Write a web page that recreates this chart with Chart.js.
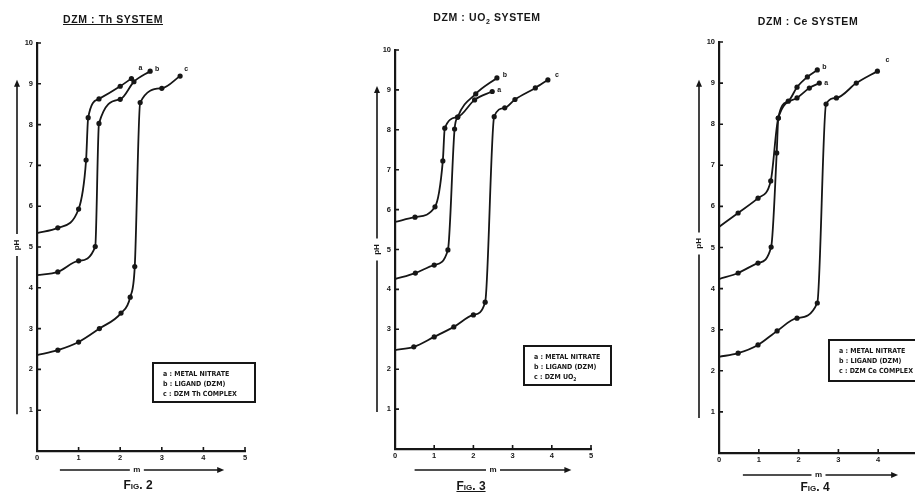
<!DOCTYPE html>
<html>
<head>
<meta charset="utf-8">
<script src="https://cdn.jsdelivr.net/npm/chart.js@4/dist/chart.umd.min.js"></script>
<style>
  body { margin: 0; width: 915px; height: 496px; overflow: hidden; position: relative; background: #fff;
         font-family: "Liberation Sans", "DejaVu Sans", sans-serif; font-weight: bold; color: #161616; }
  canvas { position: absolute; top: 0; }
  .title { position: absolute; font-size: 10.5px; letter-spacing: 0.6px; transform: translateX(-50%); white-space: nowrap; }
  .title sub { font-size: 7px; }
  .fig { position: absolute; font-size: 12px; font-variant: small-caps; transform: translateX(-50%); white-space: nowrap; }
  .legend { position: absolute; border: 2px solid #161616; box-sizing: border-box; padding: 5px 0 0 9px;
            font-family: "Liberation Sans Narrow", "DejaVu Sans Condensed", sans-serif; font-size: 7px; line-height: 10px; white-space: nowrap; overflow: hidden; }
  .legend sub { font-size: 5px; }
</style>
</head>
<body>
<canvas id="th" width="300" height="496" style="left:0px"></canvas>
<canvas id="uo" width="270" height="496" style="left:340px"></canvas>
<canvas id="ce" width="265" height="496" style="left:660px"></canvas>

<div class="title" style="left:113px;top:13px;text-decoration:underline">DZM : Th SYSTEM</div>
<div class="title" style="left:487px;top:11px">DZM : UO<sub>2</sub> SYSTEM</div>
<div class="title" style="left:808px;top:15px">DZM : Ce SYSTEM</div>

<div class="legend" id="leg-th" style="left:152px;top:362px;width:104px;height:41px"></div>
<div class="legend" id="leg-uo" style="left:523px;top:345px;width:89px;height:41px"></div>
<div class="legend" id="leg-ce" style="left:828px;top:339px;width:100px;height:43px"></div>

<div class="fig" style="left:138px;top:478px">Fig. 2</div>
<div class="fig" style="left:471px;top:479px;text-decoration:underline">Fig. 3</div>
<div class="fig" style="left:815px;top:480px">Fig. 4</div>

<script>
// Potentiometric titration curves (pH vs m) for three DZM systems.
// Values.

const INK = "#161616";

// --- Fig. 2 : DZM : Th ---
const thM_a  = [0, 0.5, 1.0, 1.18, 1.23, 1.49, 2.0, 2.27];
const thPH_a = [5.34, 5.47, 5.93, 7.13, 8.17, 8.63, 8.94, 9.13];
const thM_b  = [0, 0.5, 1.0, 1.4, 1.49, 2.0, 2.33, 2.72];
const thPH_b = [4.31, 4.39, 4.66, 5.01, 8.03, 8.62, 9.05, 9.31];
const thM_c  = [0, 0.5, 1.0, 1.5, 2.02, 2.24, 2.35, 2.48, 3.0, 3.44];
const thPH_c = [2.35, 2.47, 2.67, 3.0, 3.38, 3.77, 4.52, 8.54, 8.89, 9.19];

// --- Fig. 3 : DZM : UO2 ---
const uoM_a  = [0, 0.51, 1.02, 1.22, 1.27, 1.6, 2.03, 2.48];
const uoPH_a = [5.69, 5.81, 6.07, 7.22, 8.04, 8.32, 8.75, 8.96];
const uoM_b  = [0, 0.52, 1.0, 1.35, 1.52, 1.6, 2.06, 2.6];
const uoPH_b = [4.26, 4.41, 4.61, 4.99, 8.02, 8.32, 8.9, 9.3];
const uoM_c  = [0, 0.48, 1.0, 1.5, 2.0, 2.3, 2.53, 2.8, 3.06, 3.58, 3.9];
const uoPH_c = [2.48, 2.56, 2.81, 3.06, 3.36, 3.68, 8.33, 8.55, 8.76, 9.05, 9.25];

// --- Fig. 4 : DZM : Ce ---
const ceM_a  = [0, 0.48, 0.98, 1.3, 1.49, 1.96, 2.27, 2.52];
const cePH_a = [5.5, 5.84, 6.2, 6.62, 8.15, 8.64, 8.88, 9.0];
const ceM_b  = [0, 0.48, 0.98, 1.31, 1.45, 1.49, 1.74, 1.96, 2.22, 2.47];
const cePH_b = [4.23, 4.38, 4.62, 5.01, 7.3, 8.15, 8.56, 8.9, 9.15, 9.32];
const ceM_c  = [0, 0.48, 0.98, 1.46, 1.96, 2.47, 2.69, 2.95, 3.45, 3.98];
const cePH_c = [2.34, 2.43, 2.63, 2.97, 3.28, 3.65, 8.49, 8.64, 9.0, 9.29];

const curveLetters = ["a", "b", "c"];
const legendTh = ["a : METAL NITRATE", "b : LIGAND (DZM)", "c : DZM Th COMPLEX"];
const legendUo = ["a : METAL NITRATE", "b : LIGAND (DZM)", "c : DZM UO<sub>2</sub>"];
const legendCe = ["a : METAL NITRATE", "b : LIGAND (DZM)", "c : DZM Ce COMPLEX"];

const yTicks = [0, 1, 2, 3, 4, 5, 6, 7, 8, 9, 10];
const xTicks = [0, 1, 2, 3, 4, 5];

// ---------------------------------------------------------------------------
// Inward tick marks, axis arrows and curve letters
// ---------------------------------------------------------------------------

const decorPlugin = {
  id: "decor",
  afterDraw(chart, args, o) {
    const { ctx, chartArea: area, scales: { x, y } } = chart;
    ctx.save();
    ctx.strokeStyle = INK;
    ctx.fillStyle   = INK;
    ctx.lineWidth   = 1.6;

    ctx.beginPath();
    yTicks.slice(1).forEach(v => {
      const py = y.getPixelForValue(v);
      ctx.moveTo(area.left, py); ctx.lineTo(area.left + 4, py);
    });
    xTicks.slice(1).forEach(v => {
      const px = x.getPixelForValue(v);
      ctx.moveTo(px, area.bottom); ctx.lineTo(px, area.bottom - 4);
    });
    ctx.stroke();

    // pH arrow
    const ax   = area.left - o.v.dx;
    const yTop = y.getPixelForValue(o.v.to);
    const yBot = y.getPixelForValue(o.v.from);
    const yLab = y.getPixelForValue(o.v.at);
    ctx.beginPath();
    ctx.moveTo(ax, yBot); ctx.lineTo(ax, yLab + 11);
    ctx.moveTo(ax, yLab - 11); ctx.lineTo(ax, yTop + 5);
    ctx.stroke();
    ctx.beginPath();
    ctx.moveTo(ax, yTop); ctx.lineTo(ax - 3, yTop + 7); ctx.lineTo(ax + 3, yTop + 7);
    ctx.closePath(); ctx.fill();
    ctx.save();
    ctx.translate(ax, yLab);
    ctx.rotate(-Math.PI / 2);
    ctx.font = "bold 8px 'Liberation Sans', sans-serif";
    ctx.textAlign = "center";
    ctx.textBaseline = "middle";
    ctx.fillText("pH", 0, 0);
    ctx.restore();

    // m arrow
    const ay   = area.bottom + o.h.dy;
    const xL   = x.getPixelForValue(o.h.from);
    const xR   = x.getPixelForValue(o.h.to);
    const xLab = x.getPixelForValue(o.h.at);
    ctx.beginPath();
    ctx.moveTo(xL, ay); ctx.lineTo(xLab - 7, ay);
    ctx.moveTo(xLab + 7, ay); ctx.lineTo(xR - 5, ay);
    ctx.stroke();
    ctx.beginPath();
    ctx.moveTo(xR, ay); ctx.lineTo(xR - 7, ay - 3); ctx.lineTo(xR - 7, ay + 3);
    ctx.closePath(); ctx.fill();
    ctx.font = "bold 8px 'Liberation Sans', sans-serif";
    ctx.textAlign = "center";
    ctx.textBaseline = "middle";
    ctx.fillText("m", xLab, ay);

    // curve letters at the end of each curve
    ctx.font = "bold 7px 'Liberation Sans', sans-serif";
    chart.data.datasets.forEach((ds, i) => {
      const pts  = chart.getDatasetMeta(i).data;
      const last = pts[pts.length - 1];
      const off  = o.letters[i];
      ctx.fillText(curveLetters[i], last.x + off[0], last.y + off[1]);
    });
    ctx.restore();
  },
};

// ---------------------------------------------------------------------------
// One titration chart
// ---------------------------------------------------------------------------

function makeSeries(ms, phs) {
  return ms.map((m, i) => ({ x: m, y: phs[i] }));
}

function renderPanel(id, series, box, deco) {
  const ctx = document.getElementById(id);
  return new Chart(ctx, {
    type: "scatter",
    data: {
      datasets: series.map((s, i) => ({
        label:                 curveLetters[i],
        data:                  makeSeries(s[0], s[1]),
        showLine:              true,
        borderColor:           INK,
        borderWidth:           1.8,
        backgroundColor:       INK,
        pointBackgroundColor:  INK,
        pointBorderWidth:      0,
        pointRadius:           c => (c.dataIndex === 0 ? 0 : 2.6),
        cubicInterpolationMode: "monotone",
      })),
    },
    options: {
      responsive: false,
      animation:  false,
      layout: { padding: { left: 0, top: box.top, right: box.right, bottom: 0 } },
      plugins: {
        legend:  { display: false },
        tooltip: { enabled: false },
        decor:   deco,
      },
      scales: {
        x: {
          type: "linear", min: 0, max: 5,
          afterFit: s => { s.height = box.xh; },
          afterBuildTicks: s => { s.ticks = xTicks.map(v => ({ value: v })); },
          ticks:  { padding: 2, color: INK, font: { family: "'Liberation Sans', sans-serif", size: 7.5, weight: "bold" } },
          grid:   { display: false, drawTicks: false },
          border: { display: true, width: 2.2, color: INK },
        },
        y: {
          type: "linear", min: 0, max: 10,
          afterFit: s => { s.width = box.yw; },
          afterBuildTicks: s => { s.ticks = yTicks.map(v => ({ value: v })); },
          ticks:  { padding: 4, color: INK, font: { family: "'Liberation Sans', sans-serif", size: 7.5, weight: "bold" },
                    callback: v => (v === 0 ? "" : v) },
          grid:   { display: false, drawTicks: false },
          border: { display: true, width: 2.2, color: INK },
        },
      },
    },
    plugins: [decorPlugin],
  });
}

function fillLegend(id, lines) {
  document.getElementById(id).innerHTML = lines.map(t => "<div>" + t + "</div>").join("");
}

fillLegend("leg-th", legendTh);
fillLegend("leg-uo", legendUo);
fillLegend("leg-ce", legendCe);

renderPanel("th",
  [[thM_a, thPH_a], [thM_b, thPH_b], [thM_c, thPH_c]],
  { top: 43, right: 55, xh: 45, yw: 37 },
  { v: { dx: 20, from: 0.9, to: 9.1, at: 5.05 },
    h: { dy: 19, from: 0.55, to: 4.5, at: 2.4 },
    letters: [[9, -10], [7, -2], [6, -7]] });

renderPanel("uo",
  [[uoM_a, uoPH_a], [uoM_b, uoPH_b], [uoM_c, uoPH_c]],
  { top: 50, right: 19, xh: 47, yw: 55 },
  { v: { dx: 18, from: 0.93, to: 9.1, at: 5.0 },
    h: { dy: 21, from: 0.5, to: 4.5, at: 2.5 },
    letters: [[7, -1], [8, -3], [9, -5]] });

renderPanel("ce",
  [[ceM_a, cePH_a], [ceM_b, cePH_b], [ceM_c, cePH_c]],
  { top: 42, right: 7, xh: 43, yw: 59 },
  { v: { dx: 20, from: 0.85, to: 9.08, at: 5.1 },
    h: { dy: 22, from: 0.6, to: 4.5, at: 2.5 },
    letters: [[7, 0], [7, -3], [10, -11]] });
</script>
</body>
</html>
